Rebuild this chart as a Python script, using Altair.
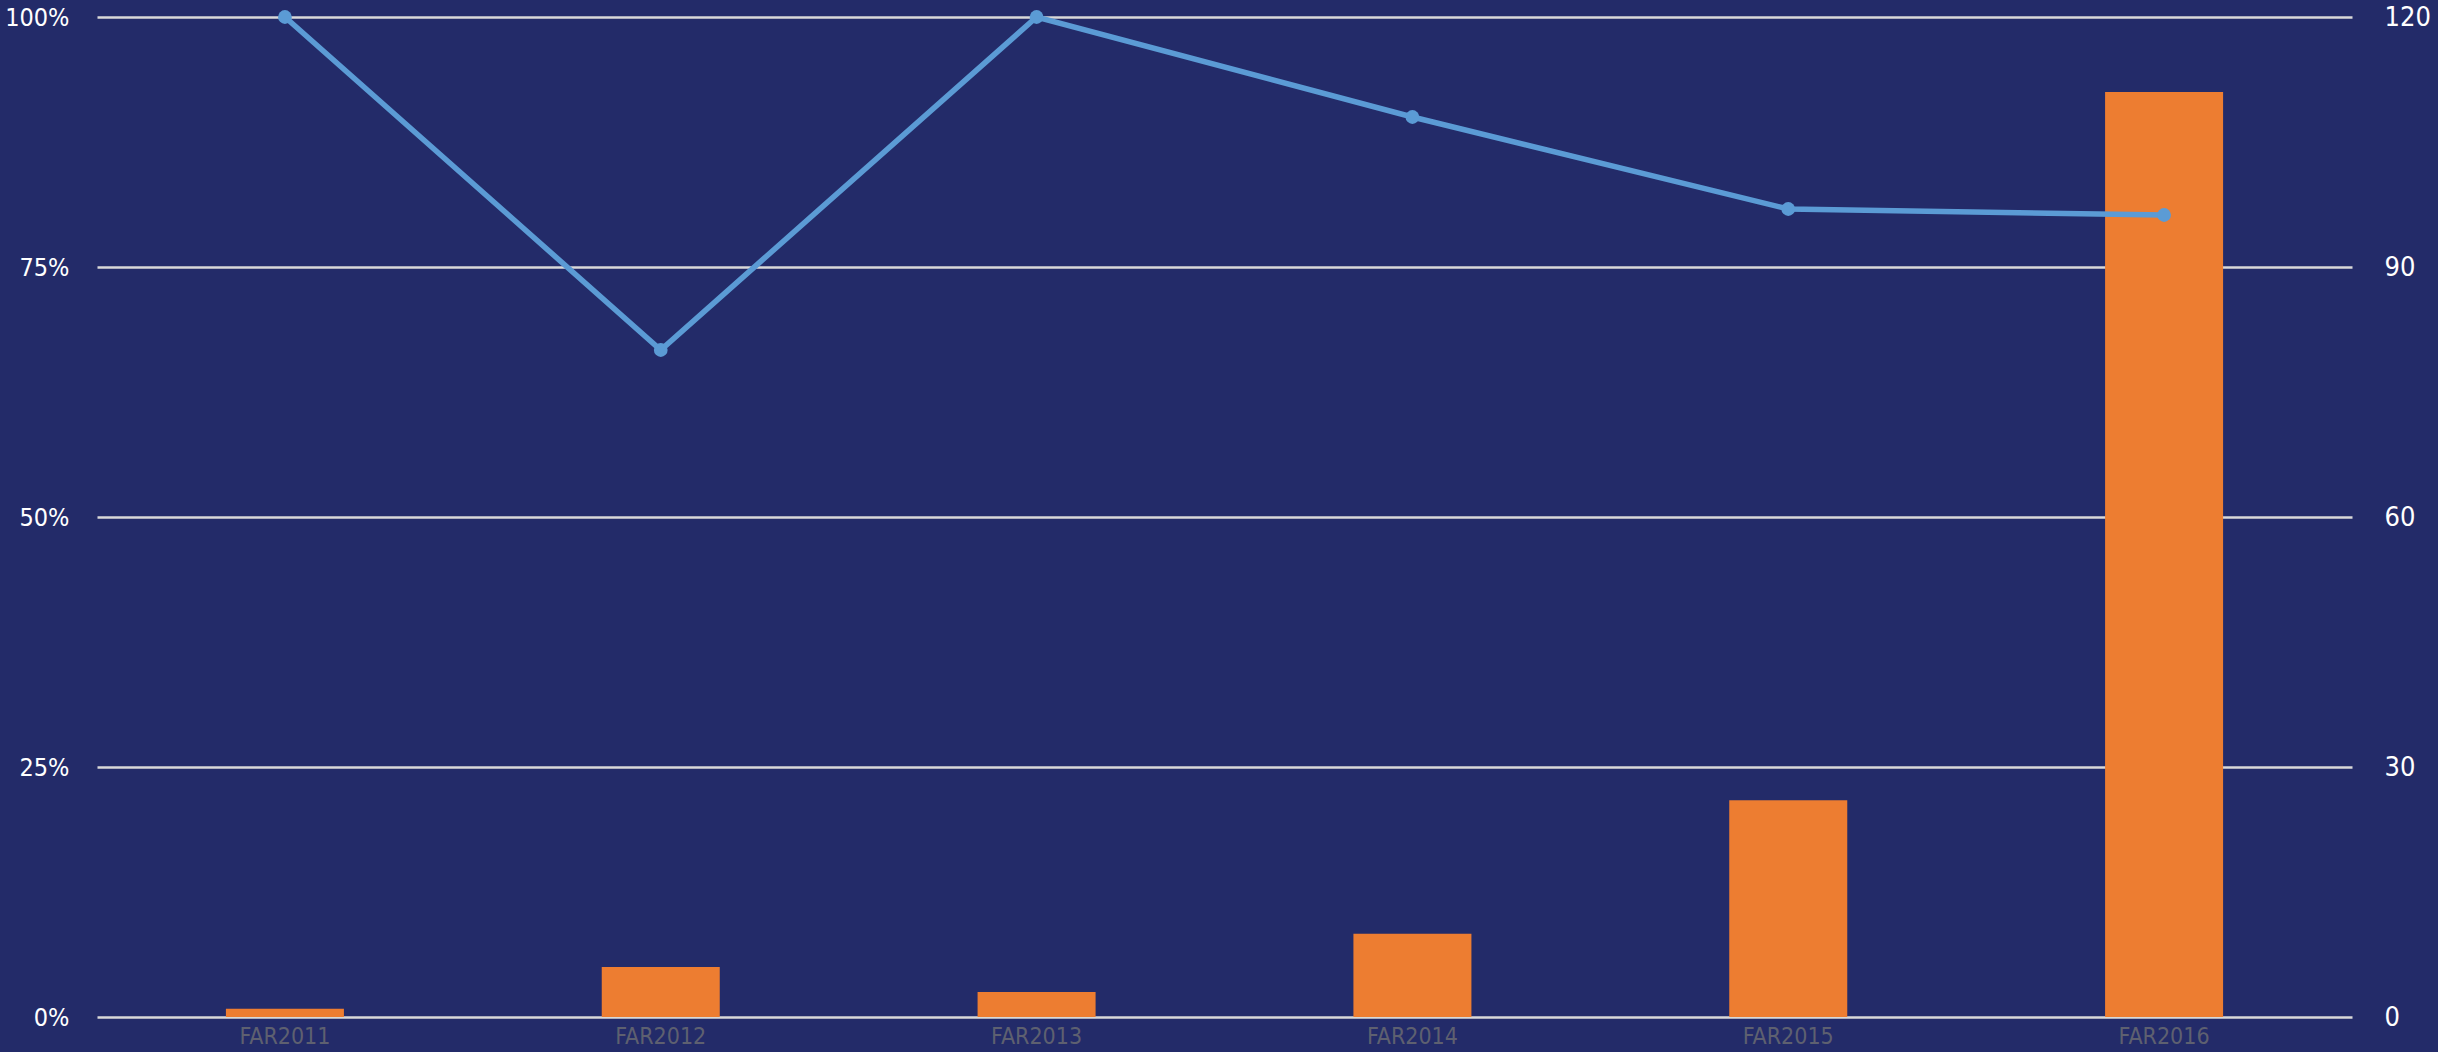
import altair as alt
import pandas as pd

categories = ["FAR2011", "FAR2012", "FAR2013", "FAR2014", "FAR2015", "FAR2016"]
counts = [1, 6, 3, 10, 26, 111]
rates = [1.0, 0.667, 1.0, 0.90, 0.808, 0.802]

df = pd.DataFrame({"cat": categories, "count": counts, "rate": rates})

FONT = "DejaVu Sans Condensed, Liberation Sans Narrow, sans-serif"

x = alt.X(
    "cat:N",
    sort=categories,
    scale=alt.Scale(paddingInner=0.686, paddingOuter=0.343),
    axis=alt.Axis(
        title=None, labelAngle=0, domain=False, ticks=False,
        labelColor="#5e6070", labelFont=FONT, labelFontSize=23, labelPadding=8,
    ),
)

bars = alt.Chart(df).mark_bar(color="#ED7D31").encode(
    x=x,
    y=alt.Y(
        "count:Q",
        scale=alt.Scale(domain=[0, 120], nice=False),
        axis=alt.Axis(
            orient="right", title=None, values=[0, 30, 60, 90, 120],
            domain=False, ticks=False, grid=False,
            labelColor="white", labelFont=FONT, labelFontSize=27, labelPadding=32,
        ),
    ),
)

line = alt.Chart(df).mark_line(
    color="#5B9BD5", strokeWidth=5.5,
    point=alt.OverlayMarkDef(color="#5B9BD5", size=190, filled=True, opacity=1),
).encode(
    x=x,
    y=alt.Y(
        "rate:Q",
        scale=alt.Scale(domain=[0, 1], nice=False),
        axis=alt.Axis(
            orient="left", title=None, values=[0, 0.25, 0.5, 0.75, 1.0], format=".0%",
            domain=False, ticks=False, grid=True, gridColor="#D9D9D9", gridWidth=2.5,
            labelColor="white", labelFont=FONT, labelFontSize=25, labelPadding=28,
        ),
    ),
)

chart = alt.layer(bars, line).resolve_scale(y="independent").properties(
    width=2255, height=1000,
    autosize=alt.AutoSizeParams(type="none"),
    padding={"left": 97, "top": 17, "right": 86, "bottom": 35},
    background="#232B69",
).configure_view(stroke=None)

chart.save("out.html", embed_options={"renderer": "svg", "actions": False})
